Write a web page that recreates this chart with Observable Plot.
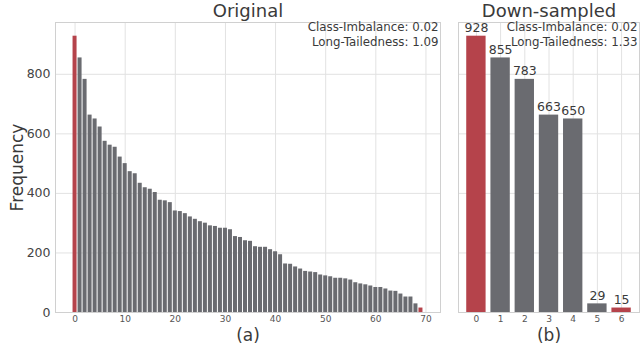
<!DOCTYPE html>
<html><head><meta charset="utf-8">
<script src="https://cdn.jsdelivr.net/npm/d3@7"></script>
<script src="https://cdn.jsdelivr.net/npm/@observablehq/plot@0.6"></script>
<style>
body{margin:0;background:#fff;font-family:"DejaVu Sans",sans-serif;}
#wrap{position:relative;width:640px;height:352px;overflow:hidden;}
#left{position:absolute;left:0;top:0;}
#right{position:absolute;left:448px;top:0;}
</style></head><body><div id="wrap"><div id="left"></div><div id="right"></div></div>
<script>
// ---- data ----
const originalCounts = [928,855,783,663,650,623,575,562,555,522,
  500,473,466,434,419,414,403,377,375,369,
  341,339,332,321,313,305,300,291,289,283,
  283,278,255,252,241,239,221,219,219,211,
  204,194,163,162,153,146,138,136,134,126,
  123,120,115,115,113,109,100,96,93,89,
  84,84,79,72,71,62,52,52,29,15];
const sampledClasses = [0,1,2,3,4,5,6];
const sampledCounts = [928,855,783,663,650,29,15];
const yTicks = [0,200,400,600,800];
const originalXTicks = [0,10,20,30,40,50,60,70];
const originalHighlight = [0,69];
const sampledHighlight = [0,6];
const panelTitles = ["Original","Down-sampled"];
const panelLabels = ["(a)","(b)"];
const classImbalance = ["0.02","0.02"];
const longTailedness = ["1.09","1.33"];
const yLabel = "Frequency";

const RED = "#b5434b", GRAY = "#6a6b70", GRID = "#e2e2e2", FRAME = "#d0d0d0", TXT = "#3a3a3a";
const yDomain = [0, 974];

const origData = originalCounts.map((v,i)=>({i, v, hl: originalHighlight.includes(i)}));
const sampData = sampledCounts.map((v,k)=>({i: sampledClasses[k], v, hl: sampledHighlight.includes(sampledClasses[k])}));

function annotations(idx){
  return [
    Plot.text([`Class-Imbalance: ${classImbalance[idx]}`], {frameAnchor:"top-right", textAnchor:"end", lineAnchor:"middle", dx:-2, dy:5, fontSize:11.8, fill:TXT}),
    Plot.text([`Long-Tailedness: ${longTailedness[idx]}`], {frameAnchor:"top-right", textAnchor:"end", lineAnchor:"middle", dx:-2, dy:19.8, fontSize:11.8, fill:TXT}),
    Plot.text([panelTitles[idx]], {frameAnchor:"top", textAnchor:"middle", lineAnchor:"middle", dy:-11, fontSize:18, fill:TXT}),
    Plot.text([panelLabels[idx]], {frameAnchor:"bottom", textAnchor:"middle", lineAnchor:"middle", dy:23, fontSize:17, fill:TXT})
  ];
}

const left = Plot.plot({
  width:448, height:352, marginLeft:55, marginRight:8, marginTop:22, marginBottom:40,
  style:{fontFamily:"DejaVu Sans, sans-serif", color:"#444", background:"#fff"},
  x:{type:"linear", domain:[-3.9,72.9]},
  y:{domain:yDomain},
  marks:[
    Plot.gridX(originalXTicks,{stroke:GRID, strokeOpacity:1}),
    Plot.gridY(yTicks,{stroke:GRID, strokeOpacity:1}),
    Plot.frame({stroke:FRAME}),
    Plot.rectY(origData,{x1:d=>d.i-0.4, x2:d=>d.i+0.4, y1:0, y2:"v", fill:d=>d.hl?RED:GRAY}),
    Plot.axisX(originalXTicks,{tickSize:0, tickPadding:3, fontSize:9, label:null, fill:"#555"}),
    Plot.axisY(yTicks,{tickSize:0, tickPadding:5, fontSize:12.5, label:null, fill:"#444"}),
    Plot.text([yLabel],{frameAnchor:"left", rotate:-90, textAnchor:"middle", lineAnchor:"middle", dx:-38, fontSize:17, fill:TXT}),
    ...annotations(0)
  ]
});

const right = Plot.plot({
  width:192, height:352, marginLeft:10, marginRight:1, marginTop:22, marginBottom:40,
  style:{fontFamily:"DejaVu Sans, sans-serif", color:"#444", background:"#fff"},
  x:{type:"linear", domain:[-0.74,6.74]},
  y:{domain:yDomain},
  marks:[
    Plot.gridX(sampledClasses,{stroke:GRID, strokeOpacity:1}),
    Plot.gridY(yTicks,{stroke:GRID, strokeOpacity:1}),
    Plot.frame({stroke:FRAME}),
    Plot.rectY(sampData,{x1:d=>d.i-0.4, x2:d=>d.i+0.4, y1:0, y2:"v", fill:d=>d.hl?RED:GRAY}),
    Plot.text(sampData,{x:"i", y:"v", text:d=>String(d.v), dy:-8, fontSize:12.5, fill:TXT}),
    Plot.axisX(sampledClasses,{tickSize:0, tickPadding:3, fontSize:9, label:null, fill:"#555"}),
    Plot.axisY(yTicks,{tickSize:0, tickFormat:()=>"", label:null}),
    ...annotations(1)
  ]
});

document.getElementById("left").appendChild(left);
document.getElementById("right").appendChild(right);
</script></body></html>
